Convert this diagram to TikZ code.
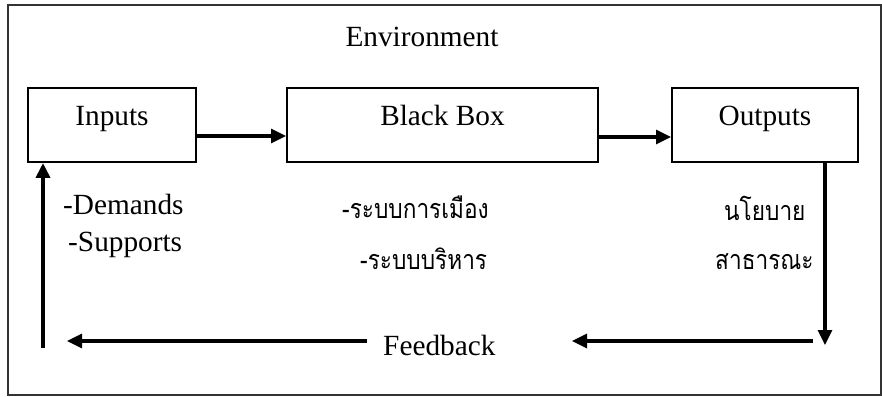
\documentclass[tikz,border=0pt]{standalone}
\usepackage{fontspec}
\setmainfont{Liberation Serif}
\newfontfamily\thaifont[Script=Thai,FakeStretch=0.84]{Loma}
\usetikzlibrary{arrows.meta}

\begin{document}
\begin{tikzpicture}[x=0.3mm,y=-0.3mm,
        box/.style={draw,line width=1.7pt,minimum height=2.22cm,text height=0.6cm,text depth=0.54cm,font=\fontsize{25}{30}\selectfont},
        lbl/.style={font=\fontsize{25}{30}\selectfont,inner sep=0pt},
        tlbl/.style={font=\thaifont\fontsize{23}{27}\selectfont,inner sep=0pt},
        arr/.style={line width=2.6pt,-{Triangle[length=0.45cm,width=0.42cm]}}]
        \useasboundingbox (0,0) rectangle (882,397);
        \draw[line width=1.7pt,black!80] (8,5) rectangle (881,395);

        % the three boxes
        \node[box,minimum width=5.04cm] (inputs) at (112,125) {Inputs};
        \node[box,minimum width=9.33cm] (blackbox) at (442.5,125) {Black Box};
        \node[box,minimum width=5.58cm] (outputs) at (765,125) {Outputs};

        \node[lbl,anchor=base] (env) at (422,47) {Environment};
        \node[lbl,anchor=base west] (demands) at (63,215) {-Demands};
        \node[lbl,anchor=base west] (supports) at (68,252) {-Supports};
        \node[tlbl,anchor=base west] (politics) at (342,219) {-ระบบการเมือง};
        \node[tlbl,anchor=base west] (admin) at (360,270) {-ระบบบริหาร};
        \node[tlbl,anchor=base west] (policy) at (724,221) {นโยบาย};
        \node[tlbl,anchor=base west] (public) at (715,270) {สาธารณะ};
        \node[lbl,anchor=base west] (feedback) at (383,355) {Feedback};

        \coordinate (corner) at (825,345);
        \coordinate (fbstart) at (813,341);
        \coordinate (fbend) at (572,341);
        \coordinate (loopend) at (67,341);
        \coordinate (loopstart) at (43,348);

        \draw[arr] ([yshift=-0.33cm]inputs.east) -- ([yshift=-0.33cm]blackbox.west);
        \draw[arr] ([yshift=-0.36cm]blackbox.east) -- ([yshift=-0.36cm]outputs.west);
        \draw[arr] (outputs.south -| corner) -- (corner);
        \draw[arr] (fbstart) -- (fbend);
        \draw[arr] ([xshift=-4.8mm]feedback.west |- loopend) -- (loopend);
        \draw[arr,line width=3.8pt] (loopstart) -- (inputs.south -| loopstart);
    \end{tikzpicture}
\end{document}
